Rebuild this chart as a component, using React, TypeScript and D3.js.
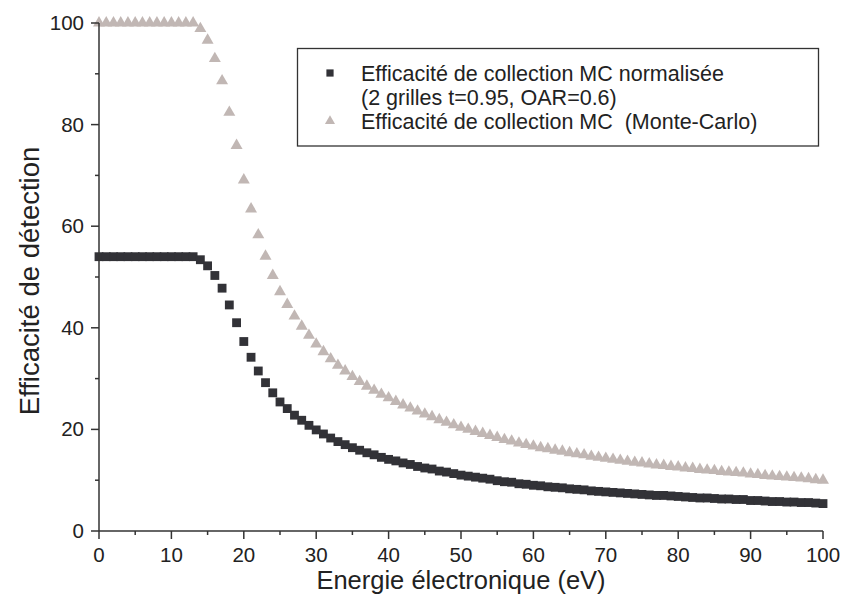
import React from "react";
import * as d3 from "d3";

const energies: number[] = Array.from({ length: 101 }, (_, i) => i);

const triangleValues: number[] = [
  100, 100, 100, 100, 100, 100, 100, 100, 100, 100, 100, 100, 100, 100,
  98.9, 96.6, 93.0, 88.6, 82.4, 75.9, 69.1, 63.4, 58.3, 54.1, 50.3,
  47.1, 44.6, 42.3, 40.3, 38.5, 36.8, 35.3, 33.9, 32.6, 31.5, 30.4,
  29.4, 28.5, 27.7, 26.9, 26.2, 25.5, 24.8, 24.2, 23.6, 23.0, 22.5,
  21.9, 21.4, 20.9, 20.4, 20.0, 19.6, 19.2, 18.8, 18.4, 18.0, 17.7,
  17.3, 17.0, 16.7, 16.4, 16.2, 15.9, 15.7, 15.4, 15.2, 15.0, 14.7,
  14.5, 14.3, 14.1, 13.9, 13.7, 13.5, 13.4, 13.2, 13.0, 12.9, 12.7,
  12.6, 12.4, 12.3, 12.1, 12.0, 11.9, 11.7, 11.6, 11.5, 11.4, 11.2,
  11.1, 10.9, 10.8, 10.7, 10.6, 10.5, 10.4, 10.3, 10.1, 10.0,
];

const squareValues: number[] = [
  54.0, 54.0, 54.0, 54.0, 54.0, 54.0, 54.0, 54.0, 54.0, 54.0, 54.0, 54.0, 54.0, 54.0,
  53.4, 52.2, 50.3, 47.8, 44.5, 41.0, 37.3, 34.2, 31.5, 29.2, 27.2,
  25.4, 24.1, 22.8, 21.8, 20.8, 19.9, 19.1, 18.3, 17.6, 17.0, 16.4,
  15.9, 15.4, 15.0, 14.5, 14.1, 13.8, 13.4, 13.1, 12.7, 12.4, 12.2,
  11.8, 11.6, 11.3, 11.0, 10.8, 10.6, 10.4, 10.2, 9.9, 9.7, 9.6,
  9.3, 9.2, 9.0, 8.9, 8.7, 8.6, 8.5, 8.3, 8.2, 8.1, 7.9,
  7.8, 7.7, 7.6, 7.5, 7.4, 7.3, 7.2, 7.1, 7.0, 7.0, 6.9,
  6.8, 6.7, 6.6, 6.5, 6.5, 6.4, 6.3, 6.3, 6.2, 6.2, 6.0,
  6.0, 5.9, 5.8, 5.8, 5.7, 5.7, 5.6, 5.6, 5.5, 5.4,
];

const xMajorTicks: number[] = [0, 10, 20, 30, 40, 50, 60, 70, 80, 90, 100];
const xMinorTicks: number[] = [5, 15, 25, 35, 45, 55, 65, 75, 85, 95];
const yMajorTicks: number[] = [0, 20, 40, 60, 80, 100];
const yMinorTicks: number[] = [10, 30, 50, 70, 90];

const legendLabels: string[] = [
  "Efficacité de collection MC normalisée",
  "(2 grilles t=0.95, OAR=0.6)",
  "Efficacité de collection MC\u00a0 (Monte-Carlo)",
];
const xTitle = "Energie électronique (eV)";
const yTitle = "Efficacité de détection";

const W = 843;
const H = 601;
const FONT = "'Liberation Sans', Arial, Helvetica, sans-serif";
const AXIS = "#333333";
const SQ_COLOR = "#323237";
const TRI_COLOR = "#c1b7b4";

export default function App() {
  const x = d3.scaleLinear().domain([0, 100]).range([99, 823]);
  const y = d3.scaleLinear().domain([0, 100]).range([531, 23]);

  const sq = d3.symbol().type(d3.symbolSquare).size(78)() as string;
  const tri = d3.symbol().type(d3.symbolTriangle).size(62)() as string;
  const sqLeg = d3.symbol().type(d3.symbolSquare).size(52)() as string;
  const triLeg = d3.symbol().type(d3.symbolTriangle).size(44)() as string;

  return (
    <svg
      width={W}
      height={H}
      style={{ position: "absolute", left: 0, top: 0, background: "#fff" }}
      fontFamily={FONT}
    >
      <rect x={0} y={0} width={W} height={H} fill="#fff" />

      <g fill={TRI_COLOR}>
        {energies.map((e, i) => (
          <path key={"t" + i} d={tri} transform={`translate(${x(e)},${y(triangleValues[i])})`} />
        ))}
      </g>
      <g fill={SQ_COLOR}>
        {energies.map((e, i) => (
          <path key={"s" + i} d={sq} transform={`translate(${x(e)},${y(squareValues[i])})`} />
        ))}
      </g>

      <g stroke={AXIS} strokeWidth={1.5} fill="none">
        <line x1={x(0)} x2={x(100)} y1={y(0)} y2={y(0)} />
        <line x1={x(0)} x2={x(0)} y1={y(0)} y2={y(100)} />
        {xMajorTicks.map((t) => (
          <line key={"xm" + t} x1={x(t)} x2={x(t)} y1={y(0)} y2={y(0) + 8} />
        ))}
        {xMinorTicks.map((t) => (
          <line key={"xn" + t} x1={x(t)} x2={x(t)} y1={y(0)} y2={y(0) + 4} />
        ))}
        {yMajorTicks.map((t) => (
          <line key={"ym" + t} x1={x(0)} x2={x(0) - 8} y1={y(t)} y2={y(t)} />
        ))}
        {yMinorTicks.map((t) => (
          <line key={"yn" + t} x1={x(0)} x2={x(0) - 4} y1={y(t)} y2={y(t)} />
        ))}
      </g>

      <g fill="#222" fontSize={20.5}>
        {xMajorTicks.map((t) => (
          <text key={"xl" + t} x={x(t)} y={y(0) + 31} textAnchor="middle">
            {t}
          </text>
        ))}
        {yMajorTicks.map((t) => (
          <text key={"yl" + t} x={x(0) - 15} y={y(t) + 7} textAnchor="end">
            {t}
          </text>
        ))}
      </g>

      <text x={461} y={589} textAnchor="middle" fontSize={25.5} fill="#222">
        {xTitle}
      </text>
      <text
        transform={`translate(39,${(y(0) + y(100)) / 2 + 4}) rotate(-90)`}
        textAnchor="middle"
        fontSize={27.5}
        fill="#222"
      >
        {yTitle}
      </text>

      <rect x={297.5} y={48.5} width={521} height={97.5} fill="#fff" stroke={AXIS} strokeWidth={1.3} />
      <path d={sqLeg} transform="translate(330,73)" fill={SQ_COLOR} />
      <path d={triLeg} transform="translate(330,121)" fill={TRI_COLOR} />
      <g fontSize={21.5} fill="#222">
        <text x={361} y={80.5}>{legendLabels[0]}</text>
        <text x={361} y={104.5}>{legendLabels[1]}</text>
        <text x={361} y={128.5}>{legendLabels[2]}</text>
      </g>
    </svg>
  );
}
